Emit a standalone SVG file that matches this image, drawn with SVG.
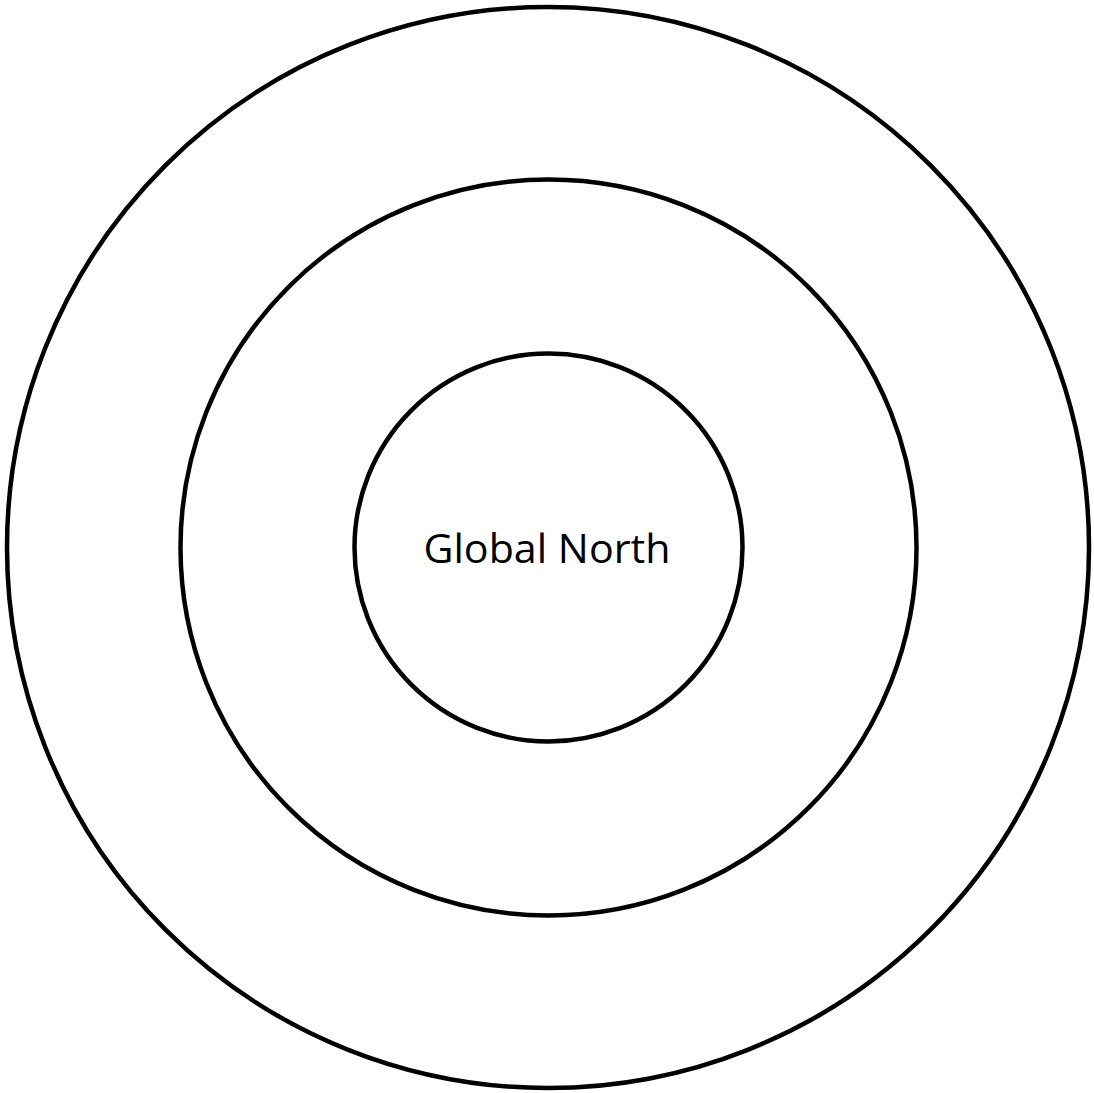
<svg xmlns="http://www.w3.org/2000/svg" width="1094" height="1093" viewBox="0 0 1094 1093">
<style>
.ring{fill:none;stroke:#000;stroke-width:4.5}
.lbl{font-family:"Open Sans","Noto Sans",sans-serif;font-size:41px;fill:#000;text-anchor:middle}
</style>
<rect width="1094" height="1093" fill="#fff"/>
<g id="outer"><ellipse class="ring" cx="548" cy="547.5" rx="541" ry="540.5"/></g>
<g id="middle"><circle class="ring" cx="548.5" cy="547.5" r="368"/></g>
<g id="inner"><circle class="ring" cx="548.5" cy="547.5" r="194"/>
<text class="lbl" x="547" y="563" textLength="247" lengthAdjust="spacingAndGlyphs">Global North</text></g>
<g id="connectors"/>
</svg>
